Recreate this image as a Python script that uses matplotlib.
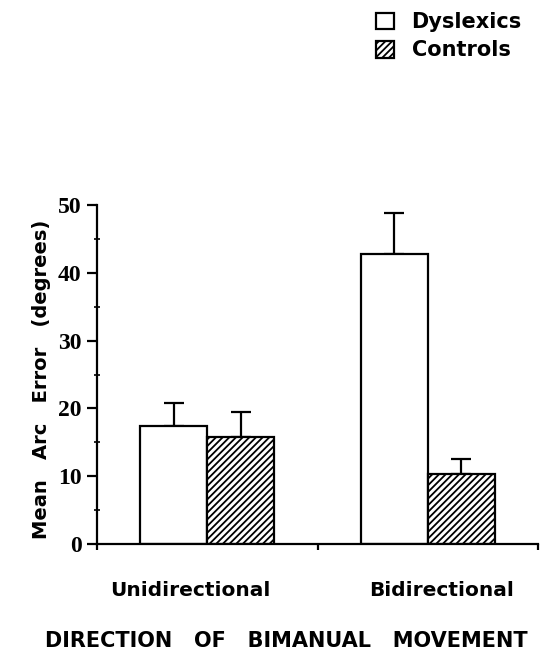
import matplotlib
matplotlib.use("Agg")
import matplotlib.pyplot as plt
import numpy as np

# ---- data ----
categories = ["Unidirectional", "Bidirectional"]
groups = ["Dyslexics", "Controls"]
dyslexics = [17.4, 42.8]
dyslexics_err = [3.4, 6.0]
controls = [15.8, 10.3]
controls_err = [3.7, 2.2]
yticks = [0, 10, 20, 30, 40, 50]
xlabel = "DIRECTION   OF   BIMANUAL   MOVEMENT"
ylabel = "Mean   Arc   Error   (degrees)"

plt.rcParams['hatch.linewidth'] = 1.3
plt.rcParams['hatch.color'] = 'black'

W, H = 543, 662
fig = plt.figure(figsize=(W / 100, H / 100), dpi=100)
ax = fig.add_axes([97 / W, 1 - 544 / H, (538 - 97) / W, (544 - 205) / H])

x = np.arange(len(categories))
bw = 0.304
lw = 1.6
b1 = ax.bar(x - bw / 2, dyslexics, bw, color='white', edgecolor='black', linewidth=lw,
            label=groups[0], zorder=2)
b2 = ax.bar(x + bw / 2, controls, bw, color='white', edgecolor='black', linewidth=lw,
            hatch='/////', label=groups[1], zorder=2)
zeros = [0] * len(categories)
ax.errorbar(x - bw / 2, dyslexics, yerr=[zeros, dyslexics_err], fmt='none', ecolor='black',
            elinewidth=1.6, capsize=7, capthick=1.6, zorder=1)
ax.errorbar(x + bw / 2, controls, yerr=[zeros, controls_err], fmt='none', ecolor='black',
            elinewidth=1.6, capsize=7, capthick=1.6, zorder=1)

ax.set_xlim(-0.5, 1.5)
ax.set_ylim(0, 50)
for s in ['top', 'right']:
    ax.spines[s].set_visible(False)
for s in ['left', 'bottom']:
    ax.spines[s].set_linewidth(1.6)

ax.set_yticks(yticks)
ax.set_yticks([5, 15, 25, 35, 45], minor=True)
ax.tick_params(axis='y', which='major', direction='out', length=7, width=1.6, pad=4)
ax.tick_params(axis='y', which='minor', direction='inout', length=4, width=1.2)
ax.set_xticks([-0.5, 0.5, 1.5])
ax.set_xticklabels([])
ax.tick_params(axis='x', which='major', direction='out', length=4, width=1.6)
for lab in ax.get_yticklabels():
    lab.set_fontfamily('Liberation Serif')
    lab.set_fontweight('bold')
    lab.set_fontsize(17)

# category labels
cat_px = [190, 442]
for name, px in zip(categories, cat_px):
    fig.text(px / W, 1 - 590 / H, name, ha='center', va='center',
             fontsize=14.5, fontweight='bold', family='DejaVu Sans')

fig.text(45 / W, 1 - 641 / H, xlabel, ha='left', va='center',
         fontsize=15, fontweight='bold', family='DejaVu Sans')
fig.text(42 / W, 1 - 379 / H, ylabel, ha='center', va='center', rotation=90,
         fontsize=14, fontweight='bold', family='DejaVu Sans')

fig.legend(handles=[b1, b2], labels=groups, loc='upper left',
           bbox_to_anchor=(372 / W, 1 - 8 / H), frameon=False,
           prop={'family': 'DejaVu Sans', 'weight': 'bold', 'size': 15},
           handlelength=0.85, handleheight=0.85, handletextpad=0.85,
           labelspacing=0.4, borderpad=0.2, borderaxespad=0)

fig.savefig("out.png", dpi=100)
